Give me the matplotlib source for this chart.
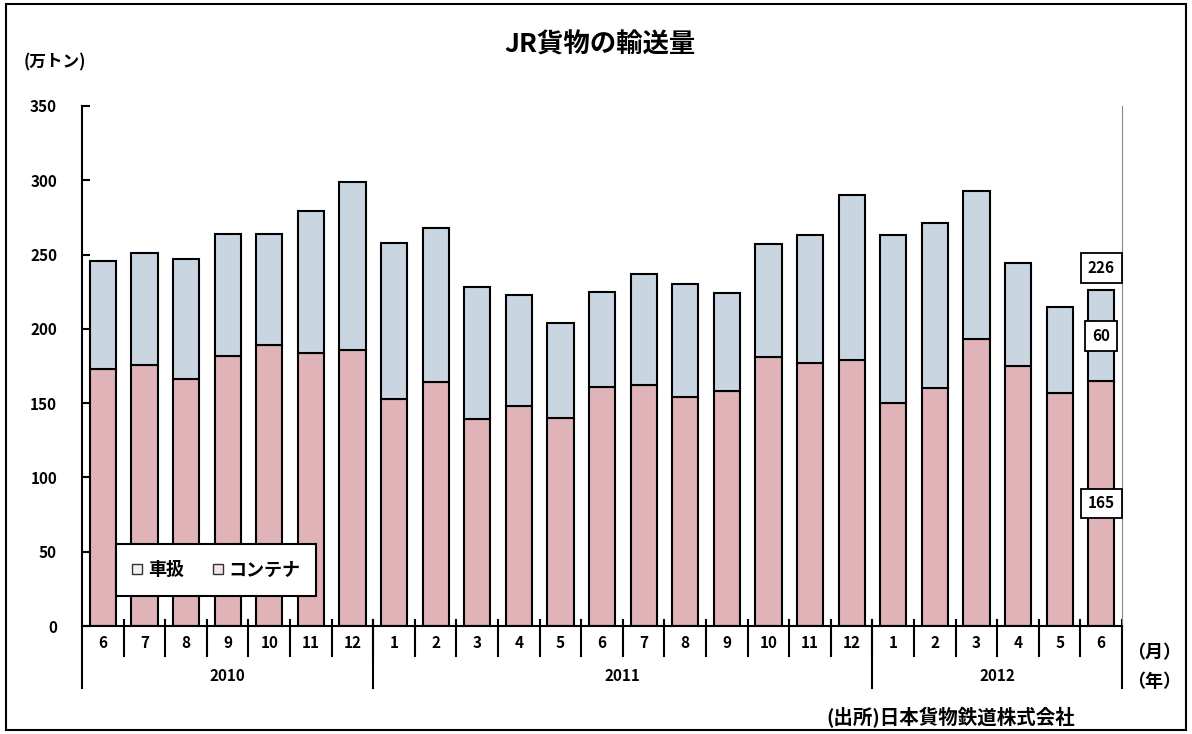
import matplotlib.pyplot as plt
import numpy as np
from matplotlib.patches import Patch, Rectangle

plt.rcParams['font.family'] = ['Noto Sans CJK JP', 'DejaVu Sans']

# monthly data, 2010/6 - 2012/6 (10k tons)
months = ['6', '7', '8', '9', '10', '11', '12',
          '1', '2', '3', '4', '5', '6', '7', '8', '9', '10', '11', '12',
          '1', '2', '3', '4', '5', '6']
years = ['2010', '2011', '2012']
year_counts = [7, 12, 6]
container = [173, 176, 166, 182, 189, 184, 186,
             153, 164, 139, 148, 140, 161, 162, 154, 158, 181, 177, 179,
             150, 160, 193, 175, 157, 165]
total = [246, 251, 247, 264, 264, 279, 299,
         258, 268, 228, 223, 204, 225, 237, 230, 224, 257, 263, 290,
         263, 271, 293, 244, 215, 226]
# labels printed on the latest month (total, 車扱, コンテナ)
last_labels = ['226', '60', '165']

container = np.array(container)
total = np.array(total)
shaban = total - container

blue = '#c9d6e2'
pink = '#dfb3b7'

fig = plt.figure(figsize=(11.92, 7.34), dpi=100)
ax = fig.add_axes([0.0688, 0.1471, 0.8725, 0.7085])
x = np.arange(len(months))
ax.bar(x, container, width=0.63, color=pink, edgecolor='black', linewidth=1.5)
ax.bar(x, shaban, width=0.63, bottom=container, color=blue, edgecolor='black', linewidth=1.5)

ax.set_xlim(-0.5, len(months) - 0.5)
ax.set_ylim(0, 350)
ax.set_yticks(np.arange(0, 351, 50))
ax.tick_params(axis='y', direction='in', length=6, width=1.5, pad=18, labelsize=11)
for lbl in ax.get_yticklabels():
    lbl.set_fontweight('bold')
ax.set_xticks([])
ax.spines['top'].set_visible(False)
ax.spines['left'].set_linewidth(1.5)
ax.spines['bottom'].set_linewidth(1.5)
ax.spines['right'].set_color('#888888')
ax.spines['right'].set_linewidth(0.8)

# category axis: month labels, separators, years
tr = ax.get_xaxis_transform()
for i, m in enumerate(months):
    ax.text(i, -0.033, m, transform=tr, ha='center', va='center',
            fontsize=11, fontweight='bold')
for k in range(1, len(months)):
    ax.plot([k - 0.5, k - 0.5], [0.012, -0.058], transform=tr, color='black',
            lw=1.5, clip_on=False)
bounds = np.concatenate([[0], np.cumsum(year_counts)]) - 0.5
for b in bounds:
    ax.plot([b, b], [0.012 if b > -0.5 else 0, -0.119], transform=tr,
            color='black', lw=1.5, clip_on=False)
for y, a, b in zip(years, bounds[:-1], bounds[1:]):
    ax.text((a + b) / 2, -0.096, y, transform=tr, ha='center', va='center',
            fontsize=11, fontweight='bold')
ax.text(1.031, -0.051, '（月）', transform=ax.transAxes, ha='center', va='center',
        fontsize=13, fontweight='bold')
ax.text(1.031, -0.107, '（年）', transform=ax.transAxes, ha='center', va='center',
        fontsize=13, fontweight='bold')

# value labels on last bar
box = dict(boxstyle='square,pad=0.45', fc='white', ec='black', lw=1.3)
last = len(months) - 1
ax.text(last, total[last] + 15, last_labels[0], ha='center', va='center',
        fontsize=11, fontweight='bold', bbox=box)
ax.text(last, container[last] + 30, last_labels[1], ha='center', va='center',
        fontsize=11, fontweight='bold', bbox=box)
ax.text(last, container[last] / 2, last_labels[2], ha='center', va='center',
        fontsize=11, fontweight='bold', bbox=box)

handles = [Patch(fc='#eef1f5', ec='#333333', lw=1), Patch(fc='#f3e4e6', ec='#333333', lw=1)]
leg = ax.legend(handles, ['車扱', 'コンテナ'], ncol=2, loc='center',
                bbox_to_anchor=(0.129, 0.108), fancybox=False, framealpha=1,
                edgecolor='black', handlelength=0.55, handleheight=0.55,
                handletextpad=0.3, columnspacing=1.6, borderpad=0.9,
                prop={'size': 13, 'weight': 'bold'})
leg.get_frame().set_linewidth(1.5)

fig.text(0.503, 0.938, 'JR貨物の輸送量', ha='center', va='center',
         fontsize=19, fontweight='bold')
fig.text(0.020, 0.915, '(万トン)', ha='left', va='center',
         fontsize=12, fontweight='bold')
fig.text(0.693, 0.023, '(出所)日本貨物鉄道株式会社', ha='left', va='center',
         fontsize=14, fontweight='bold')
fig.patches.append(Rectangle((0.005, 0.006), 0.990, 0.988, transform=fig.transFigure,
                             fill=False, ec='black', lw=1.5))

fig.savefig('out.png', dpi=100)
